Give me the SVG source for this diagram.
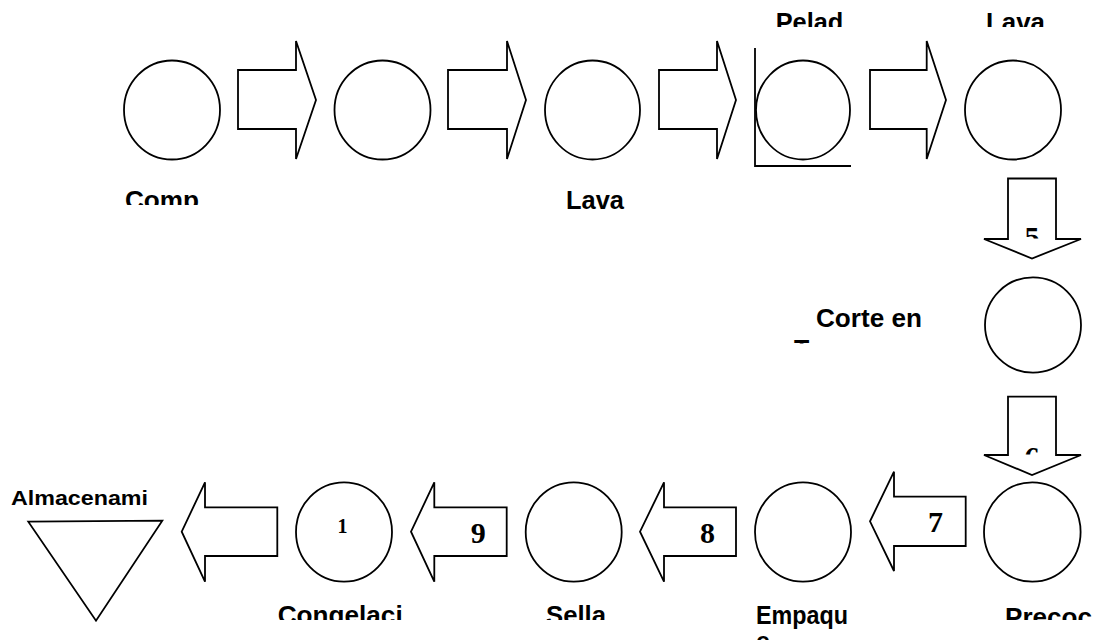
<svg xmlns="http://www.w3.org/2000/svg" width="1096" height="640" viewBox="0 0 1096 640">
<style>
.s{fill:#fff;stroke:#000;stroke-width:1.8;stroke-linejoin:miter}
.ln{fill:none;stroke:#000;stroke-width:1.8}
.lbl{font-family:"Liberation Sans",Arial,sans-serif;font-weight:bold;font-size:25px;fill:#000}
.num{font-family:"Liberation Serif","Times New Roman",serif;font-weight:bold;font-size:30px;fill:#000;text-anchor:middle}
</style>
<defs>
<clipPath id="cTop"><rect x="0" y="0" width="1096" height="27"/></clipPath>
<clipPath id="cComp"><rect x="0" y="0" width="1096" height="205"/></clipPath>
<clipPath id="cBot"><rect x="0" y="0" width="1096" height="620"/></clipPath>
<clipPath id="cT"><rect x="0" y="0" width="1096" height="343.5"/></clipPath>
<clipPath id="c5"><rect x="0" y="0" width="1096" height="238.5"/></clipPath>
<clipPath id="c6"><rect x="0" y="0" width="1096" height="454.5"/></clipPath>
</defs>
<rect width="1096" height="640" fill="#fff"/>

<g id="connectors">
<path class="s" d="M238,70 H296 V41 L316,100 L296,159 V129 H238 Z"/>
<path class="s" d="M448,70 H507 V41 L526,100 L507,159 V129 H448 Z"/>
<path class="s" d="M659,70 H717 V41 L736,100 L717,159 V129 H659 Z"/>
<path class="s" d="M870,70 H926.7 V41 L946,100 L926.7,159 V129 H870 Z"/>
<path class="s" d="M1008,178.5 H1056 V239 H1081 L1032,258.5 L984,239 H1008 Z"/>
<text class="num" x="1032" y="247" clip-path="url(#c5)">5</text>
<path class="s" d="M1008,396.7 H1056 V455 H1081 L1032,475 L984,455 H1008 Z"/>
<text class="num" x="1032" y="467" clip-path="url(#c6)">6</text>
<path class="s" d="M965.7,496.7 V546 H894 V571 L870,521.3 L894,471.7 V496.7 Z"/>
<text class="num" x="935.5" y="532.3">7</text>
<path class="s" d="M736,507.3 V556 H664 V581.7 L640,531.7 L664,482.3 V507.3 Z"/>
<text class="num" x="707.5" y="542.7">8</text>
<path class="s" d="M506.7,507.3 V556 H434.3 V581.7 L411,531.7 L434.3,482.3 V507.3 Z"/>
<text class="num" x="478.3" y="542.7">9</text>
<path class="s" d="M277.3,507.3 V556 H205 V581.7 L181.7,531.7 L205,482.3 V507.3 Z"/>
</g>

<g id="n1">
<ellipse class="s" cx="172" cy="110" rx="48" ry="49.5"/>
<text class="lbl" x="125" y="209" textLength="74" lengthAdjust="spacingAndGlyphs" clip-path="url(#cComp)">Comp</text>
</g>
<g id="n2">
<ellipse class="s" cx="382.5" cy="110" rx="48" ry="49.5"/>
</g>
<g id="n3">
<ellipse class="s" cx="592.5" cy="110" rx="47.5" ry="49.5"/>
<text class="lbl" x="566" y="209" textLength="58" lengthAdjust="spacingAndGlyphs">Lava</text>
</g>
<g id="n4">
<ellipse class="s" cx="803" cy="110" rx="47" ry="49.5"/>
<polyline class="ln" points="755,48 755,166 851,166"/>
<text class="lbl" x="775.7" y="31.3" textLength="67.6" lengthAdjust="spacingAndGlyphs" clip-path="url(#cTop)">Pelad</text>
</g>
<g id="n5">
<ellipse class="s" cx="1013" cy="110" rx="48" ry="49.5"/>
<text class="lbl" x="986" y="31.3" textLength="59" lengthAdjust="spacingAndGlyphs" clip-path="url(#cTop)">Lava</text>
</g>
<g id="n6">
<ellipse class="s" cx="1033" cy="325" rx="48" ry="47.7"/>
<text class="lbl" x="816" y="327.3" textLength="106" lengthAdjust="spacingAndGlyphs">Corte en</text>
<text class="lbl" x="794" y="358" clip-path="url(#cT)">T</text>
</g>
<g id="n7">
<ellipse class="s" cx="1032.3" cy="532" rx="48.3" ry="49.7"/>
<text class="lbl" x="1005" y="626" textLength="87" lengthAdjust="spacingAndGlyphs" clip-path="url(#cBot)">Precoc</text>
</g>
<g id="n8">
<ellipse class="s" cx="803" cy="532" rx="48" ry="49.7"/>
<text class="lbl" x="756" y="623.5" textLength="92" lengthAdjust="spacingAndGlyphs">Empaqu</text>
<text class="lbl" x="756" y="650">e</text>
</g>
<g id="n9">
<ellipse class="s" cx="573.7" cy="532" rx="48" ry="49.7"/>
<text class="lbl" x="546" y="624" textLength="60" lengthAdjust="spacingAndGlyphs" clip-path="url(#cBot)">Sella</text>
</g>
<g id="n10">
<ellipse class="s" cx="344" cy="532" rx="48" ry="49.7"/>
<text class="num" x="342.4" y="533.3" style="font-size:20px">1</text>
<text class="lbl" x="277.7" y="623.5" textLength="125" lengthAdjust="spacingAndGlyphs" clip-path="url(#cBot)">Congelaci</text>
</g>
<g id="n11">
<polygon class="s" points="28.3,521.7 162.3,520.7 96,620.7"/>
<text class="lbl" x="11" y="505" style="font-size:21px" textLength="137" lengthAdjust="spacingAndGlyphs">Almacenami</text>
</g>
</svg>
